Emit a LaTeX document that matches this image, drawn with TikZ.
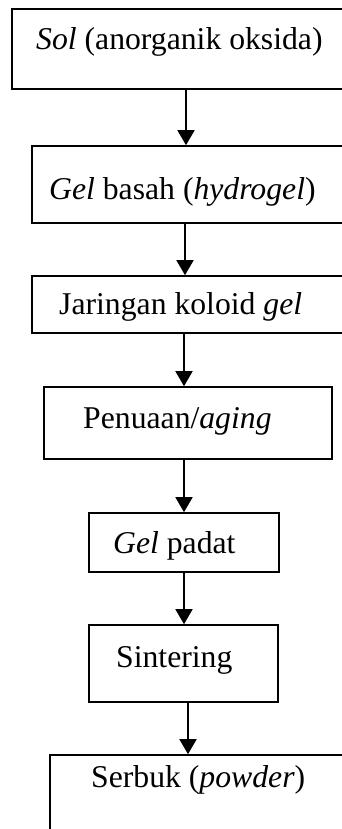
\documentclass[tikz,border=0pt]{standalone}
\usepackage{fontspec}
\setmainfont{Liberation Serif}
\usetikzlibrary{arrows.meta}
\begin{document}
\begin{tikzpicture}[x=1pt,y=-1pt,
  box/.style={draw=black,line width=1.6pt,inner sep=0pt},
  flow/.style={draw=black,line width=1.6pt,-{Triangle[width=17pt,length=15pt]}},
  lbl/.style={anchor=base west,inner sep=0pt,font=\fontsize{31.7}{36}\selectfont}]
\useasboundingbox (0,0) rectangle (342,829);
\clip (0,0) rectangle (342,829);
\fill[white] (0,0) rectangle (342,829);
% process boxes
\node[box,minimum width=338pt,minimum height=80pt] (b1) at (181,49) {};
\node[box,minimum width=318pt,minimum height=77pt] (b2) at (191,184.5) {};
\node[box,minimum width=318pt,minimum height=57pt] (b3) at (191,304.5) {};
\node[box,minimum width=288pt,minimum height=72pt] (b4) at (188,423) {};
\node[box,minimum width=190pt,minimum height=59pt] (b5) at (184,542.5) {};
\node[box,minimum width=189pt,minimum height=77pt] (b6) at (183.5,663.5) {};
\node[box,minimum width=310pt,minimum height=105pt] (b7) at (205,807.5) {};
% labels
\node[lbl] (t1) at (36,50) {\textit{Sol} (anorganik oksida)};
\node[lbl] (t2) at (49,199) {\textit{Gel} basah (\textit{hydrogel})};
\node[lbl] (t3) at (59,314) {Jaringan koloid \textit{gel}};
\node[lbl] (t4) at (83,428) {Penuaan/\textit{aging}};
\node[lbl] (t5) at (113,553) {\textit{Gel} padat};
\node[lbl] (t6) at (116,667) {Sintering};
\node[lbl] (t7) at (91,787) {Serbuk (\textit{powder})};
% connectors
\draw[flow] (186,0 |- b1.south) -- (186,0 |- b2.north);
\draw[flow] (185,0 |- b2.south) -- (185,0 |- b3.north);
\draw[flow] (184,0 |- b3.south) -- (184,0 |- b4.north);
\draw[flow] (184,0 |- b4.south) -- (184,0 |- b5.north);
\draw[flow] (184,0 |- b5.south) -- (184,0 |- b6.north);
\draw[flow] (188,0 |- b6.south) -- (188,0 |- b7.north);
\end{tikzpicture}
\end{document}
